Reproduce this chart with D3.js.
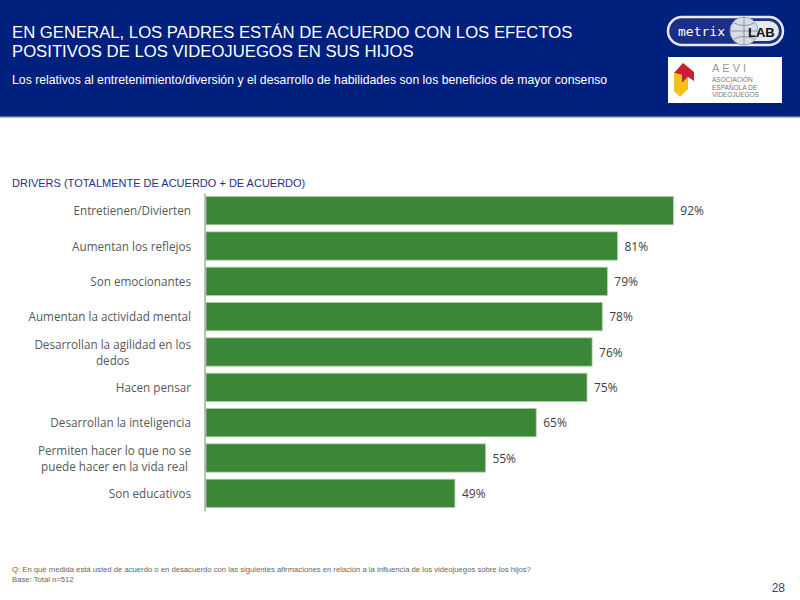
<!DOCTYPE html>
<html>
<head>
<meta charset="utf-8">
<script src="https://cdn.jsdelivr.net/npm/d3@7"></script>
<style>
  body { margin: 0; background: #fff; }
  svg { display: block; font-family: "Liberation Sans", Arial, sans-serif; }
</style>
</head>
<body>
<div id="chart-area"></div>
<script>
/* Data */
var categories = [
  "Entretienen/Divierten",
  "Aumentan los reflejos",
  "Son emocionantes",
  "Aumentan la actividad mental",
  "Desarrollan la agilidad en los|dedos",
  "Hacen pensar",
  "Desarrollan la inteligencia",
  "Permiten hacer lo que no se|puede hacer en la vida real",
  "Son educativos"
];
var values = [92, 81, 79, 78, 76, 75, 65, 55, 49];
var valueLabels = ["92%", "81%", "79%", "78%", "76%", "75%", "65%", "55%", "49%"];

var W = 800, H = 600;

var svg = d3.select("#chart-area").append("svg")
  .attr("width", W)
  .attr("height", H);

/* Header band */
svg.append("rect").attr("x", 0).attr("y", 0).attr("width", W).attr("height", 117).attr("fill", "#00207e");
svg.append("rect").attr("x", 0).attr("y", 116).attr("width", W).attr("height", 1.5).attr("fill", "#5a6aa8");

svg.append("text").attr("x", 12).attr("y", 38).attr("fill", "#fff").attr("font-size", "16.7px")
  .text("EN GENERAL, LOS PADRES ESTÁN DE ACUERDO CON LOS EFECTOS");
svg.append("text").attr("x", 12).attr("y", 57).attr("fill", "#fff").attr("font-size", "16.7px")
  .text("POSITIVOS DE LOS VIDEOJUEGOS EN SUS HIJOS");
svg.append("text").attr("x", 12).attr("y", 84).attr("fill", "#fff").attr("font-size", "12.25px")
  .text("Los relativos al entretenimiento/diversión y el desarrollo de habilidades son los beneficios de mayor consenso");

/* metrixLAB logo */
var logo = svg.append("g").attr("transform", "translate(668,16)");
logo.append("rect").attr("x", 0).attr("y", 1).attr("width", 115).attr("height", 28).attr("rx", 14)
  .attr("fill", "#1a2f86").attr("stroke", "#e6e9f2").attr("stroke-width", 2.5);
logo.append("rect").attr("x", 70).attr("y", 5).attr("width", 41).attr("height", 20).attr("rx", 10).attr("fill", "#e8e8ea");
logo.append("circle").attr("cx", 76).attr("cy", 15).attr("r", 14).attr("fill", "#d9dde6").attr("stroke", "#9aa3b8");
logo.append("path").attr("d", "M62,15 H90 M76,1 V29 M66,7 Q76,12 86,7 M66,23 Q76,18 86,23").attr("stroke", "#8a93a8").attr("fill", "none");
logo.append("text").attr("x", 10).attr("y", 20).attr("fill", "#fff").attr("font-size", "13px")
  .attr("font-family", "DejaVu Sans Mono").text("metrix");
logo.append("text").attr("x", 80).attr("y", 20.5).attr("fill", "#111").attr("font-size", "13px")
  .attr("font-weight", "bold").text("LAB");

/* AEVI logo */
var aevi = svg.append("g").attr("transform", "translate(668,57)");
aevi.append("rect").attr("width", 114).attr("height", 46).attr("fill", "#fff");
aevi.append("path").attr("d", "M6,16 L15,6 L26,15 L26,24 L20,20 L14,26 L14,18 Z").attr("fill", "#c8202e");
aevi.append("path").attr("d", "M6,16 L14,18 L14,26 L20,20 L20,32 L12,40 L6,34 Z").attr("fill", "#f2c21b");
aevi.append("text").attr("x", 44).attr("y", 15).attr("fill", "#999").attr("font-size", "11px")
  .attr("letter-spacing", "3px").text("AEVI");
["ASOCIACIÓN", "ESPAÑOLA DE", "VIDEOJUEGOS"].forEach(function(t, i) {
  aevi.append("text").attr("x", 44).attr("y", 25 + i * 7.5).attr("fill", "#777").attr("font-size", "6.5px").text(t);
});

/* Section label */
svg.append("text").attr("x", 12).attr("y", 187).attr("fill", "#2b2f8a").attr("font-size", "11px")
  .text("DRIVERS (TOTALMENTE DE ACUERDO + DE ACUERDO)");

/* Scales */
var x = d3.scaleLinear().domain([0, 100]).range([206, 714]);
var y = d3.scaleBand().domain(categories).range([193, 511]).paddingInner(0.2).paddingOuter(0.1);

var g = svg.append("g");

/* Bars */
g.selectAll("rect.bar")
  .data(values)
  .enter()
  .append("rect")
    .attr("class", "bar")
    .attr("x", x(0))
    .attr("y", function(d, i) { return y(categories[i]); })
    .attr("width", function(d) { return x(d) - x(0); })
    .attr("height", y.bandwidth())
    .attr("fill", "#3b8737")
    .attr("stroke", "#a9cfa5")
    .attr("stroke-width", 0.8);

/* Value labels */
g.selectAll("text.val")
  .data(values)
  .enter()
  .append("text")
    .attr("class", "val")
    .attr("x", function(d) { return x(d) + 7; })
    .attr("y", function(d, i) { return y(categories[i]) + y.bandwidth() / 2 + 4.5; })
    .attr("font-family", "Open Sans, sans-serif")
    .attr("font-size", "12px")
    .attr("fill", "#404040")
    .text(function(d, i) { return valueLabels[i]; });

/* Axis line */
var yAxisCall = d3.axisLeft(y).tickSize(0).tickFormat("");
var yAxis = g.append("g").attr("transform", "translate(204.5,0)").call(yAxisCall);
yAxis.select(".domain").attr("stroke", "#808080");

/* Category labels (multi-line, centred as a block, right-aligned) */
categories.forEach(function(c) {
  var lines = c.split("|");
  var t = g.append("text")
    .attr("font-family", "Open Sans, sans-serif")
    .attr("font-size", "11.7px")
    .attr("fill", "#595959")
    .attr("text-anchor", "middle");
  var cy = y(c) + y.bandwidth() / 2;
  var lh = 16;
  lines.forEach(function(l, j) {
    t.append("tspan")
      .attr("y", cy + 4.5 + (j - (lines.length - 1) / 2) * lh)
      .text(l);
  });
  var maxW = 0;
  t.selectAll("tspan").each(function() { maxW = Math.max(maxW, this.getComputedTextLength()); });
  t.selectAll("tspan").attr("x", 191 - maxW / 2);
});

/* Footer */
svg.append("text").attr("x", 12).attr("y", 572).attr("fill", "#666").attr("font-size", "7.7px")
  .text("Q:  En qué medida está usted de acuerdo o en desacuerdo con las siguientes afirmaciones en relación a la influencia de los videojuegos sobre los hijos?");
svg.append("text").attr("x", 12).attr("y", 582).attr("fill", "#666").attr("font-size", "7.7px")
  .text("Base:  Total n=512");
svg.append("text").attr("x", 785).attr("y", 592).attr("fill", "#3a3a8c").attr("font-size", "12px")
  .attr("text-anchor", "end").text("28");
</script>
</body>
</html>
